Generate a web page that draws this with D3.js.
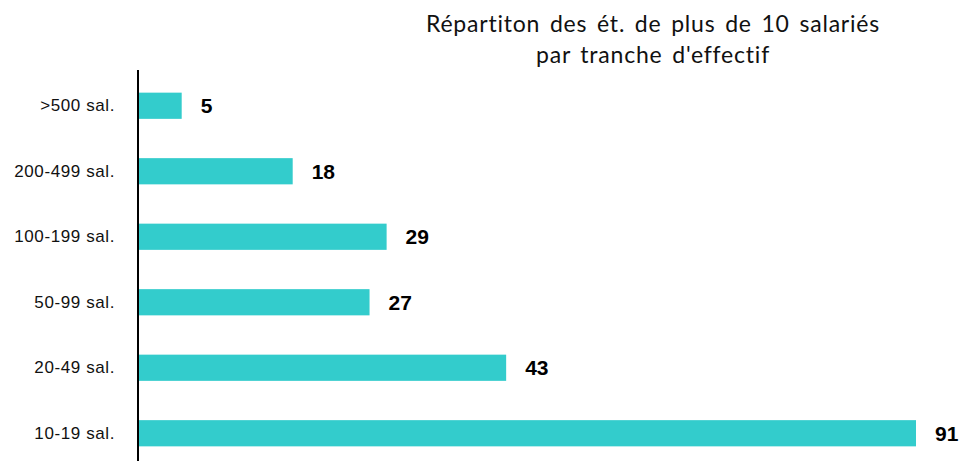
<!DOCTYPE html>
<html>
  <head>
    <meta charset="utf-8">
    <title>Répartition</title>
    <style>
      body { margin: 0; background: #fff; }
      svg { display: block; }
    </style>
    <script src="https://d3js.org/d3.v7.min.js"></script>
  </head>
  <body>
    <script>
        var categories = [">500 sal.", "200-499 sal.", "100-199 sal.", "50-99 sal.", "20-49 sal.", "10-19 sal."];
        var values = [5, 18, 29, 27, 43, 91];
        var titleLines = ["Répartiton des ét. de plus de 10 salariés", "par tranche d'effectif"];

        var width = 964;
        var height = 461;

        var svg = d3.select("body").append("svg")
            .attr("width", width)
            .attr("height", height);

        var x = d3.scaleLinear()
            .domain([0, 91])
            .range([139, 916]);

        var y = d3.scaleBand()
            .domain(categories)
            .range([73, 466])
            .paddingInner(0.6)
            .paddingOuter(0.3);

        // title
        svg.append("text")
            .attr("x", 653)
            .attr("y", 32)
            .attr("text-anchor", "middle")
            .style("font", "23px Lato, sans-serif")
            .style("letter-spacing", "0.8px")
            .style("word-spacing", "3px")
            .style("fill", "#111")
            .selectAll("tspan").data(titleLines)
            .enter().append("tspan")
            .attr("x", 653)
            .attr("dy", function (d, i) { return i === 0 ? 0 : 31; })
            .text(function (d) { return d; });

        // bars
        svg.selectAll(".bar").data(values)
            .enter().append("rect")
            .attr("class", "bar")
            .attr("x", x(0))
            .attr("y", function (d, i) { return y(categories[i]); })
            .attr("width", function (d) { return x(d) - x(0); })
            .attr("height", y.bandwidth())
            .style("fill", "#33cccc");

        // value labels
        svg.selectAll(".val").data(values)
            .enter().append("text")
            .attr("class", "val")
            .attr("x", function (d) { return x(d) + 19; })
            .attr("y", function (d, i) { return y(categories[i]) + y.bandwidth() / 2; })
            .attr("dy", "0.36em")
            .style("font", "bold 21px 'Liberation Sans', Arial, sans-serif")
            .style("fill", "#000")
            .text(function (d) { return d; });

        // y axis
        var yAxis = d3.axisLeft(y).tickSize(0).tickPadding(23);
        var g = svg.append("g")
            .attr("transform", "translate(138,0)")
            .call(yAxis);
        g.select(".domain").remove();
        g.selectAll("text")
            .style("font", "17px 'Liberation Sans', Arial, sans-serif")
            .style("letter-spacing", "0.6px")
            .style("fill", "#111");

        svg.append("line")
            .attr("x1", 138).attr("x2", 138)
            .attr("y1", 70).attr("y2", height)
            .style("stroke", "#000")
            .style("stroke-width", 2);
    </script>
  </body>
</html>
